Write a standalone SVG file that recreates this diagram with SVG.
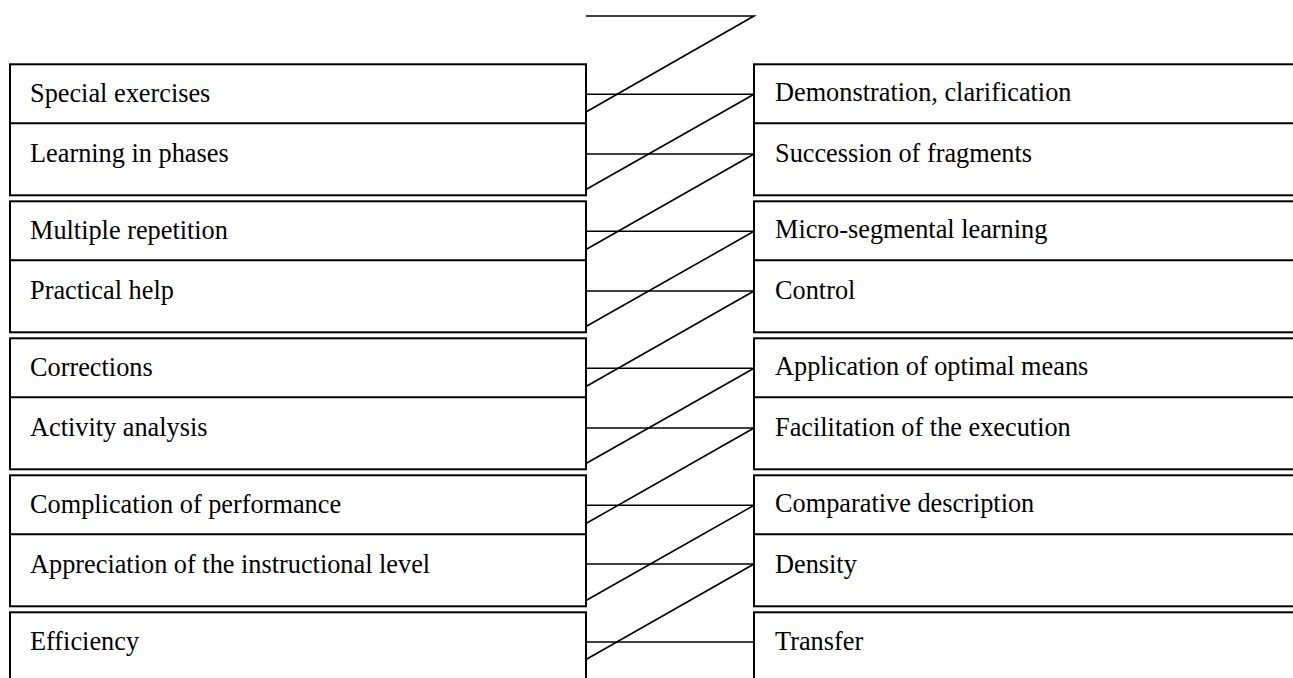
<svg xmlns="http://www.w3.org/2000/svg" width="1293" height="678" viewBox="0 0 1293 678">
<style>
.box{fill:#fff;stroke:#000;stroke-width:2}
.div{stroke:#000;stroke-width:2}
.t{font-family:"Liberation Serif","Times New Roman",serif;font-size:26.3px;fill:#000}
.c{stroke:#000;stroke-width:1.6;fill:none}
</style>
<rect width="1293" height="678" fill="#fff"/>
<g id="left-group-1">
<rect class="box" x="10" y="64.3" width="576" height="131"/>
<line class="div" x1="10" y1="123.3" x2="586" y2="123.3"/>
<text class="t" x="30" y="101.5">Special exercises</text>
<text class="t" x="30" y="161.5">Learning in phases</text>
</g>
<g id="left-group-2">
<rect class="box" x="10" y="201.3" width="576" height="131"/>
<line class="div" x1="10" y1="260.3" x2="586" y2="260.3"/>
<text class="t" x="30" y="238.5">Multiple repetition</text>
<text class="t" x="30" y="298.5">Practical help</text>
</g>
<g id="left-group-3">
<rect class="box" x="10" y="338.3" width="576" height="131"/>
<line class="div" x1="10" y1="397.3" x2="586" y2="397.3"/>
<text class="t" x="30" y="375.5">Corrections</text>
<text class="t" x="30" y="435.5">Activity analysis</text>
</g>
<g id="left-group-4">
<rect class="box" x="10" y="475.3" width="576" height="131"/>
<line class="div" x1="10" y1="534.3" x2="586" y2="534.3"/>
<text class="t" x="30" y="512.5">Complication of performance</text>
<text class="t" x="30" y="572.5">Appreciation of the instructional level</text>
</g>
<g id="left-group-5">
<rect class="box" x="10" y="612.3" width="576" height="120"/>
<text class="t" x="30" y="649.5">Efficiency</text>
</g>
<g id="right-group-1">
<rect class="box" x="754" y="64.3" width="600" height="131"/>
<line class="div" x1="754" y1="123.3" x2="1300" y2="123.3"/>
<text class="t" x="775" y="100.5">Demonstration, clarification</text>
<text class="t" x="775" y="161.5">Succession of fragments</text>
</g>
<g id="right-group-2">
<rect class="box" x="754" y="201.3" width="600" height="131"/>
<line class="div" x1="754" y1="260.3" x2="1300" y2="260.3"/>
<text class="t" x="775" y="237.5">Micro-segmental learning</text>
<text class="t" x="775" y="298.5">Control</text>
</g>
<g id="right-group-3">
<rect class="box" x="754" y="338.3" width="600" height="131"/>
<line class="div" x1="754" y1="397.3" x2="1300" y2="397.3"/>
<text class="t" x="775" y="374.5">Application of optimal means</text>
<text class="t" x="775" y="435.5">Facilitation of the execution</text>
</g>
<g id="right-group-4">
<rect class="box" x="754" y="475.3" width="600" height="131"/>
<line class="div" x1="754" y1="534.3" x2="1300" y2="534.3"/>
<text class="t" x="775" y="511.5">Comparative description</text>
<text class="t" x="775" y="572.5">Density</text>
</g>
<g id="right-group-5">
<rect class="box" x="754" y="612.3" width="600" height="120"/>
<text class="t" x="775" y="649.5">Transfer</text>
</g>
<g id="connectors">
<polyline class="c" points="586,16 754,16 586,112"/>
<line class="c" x1="586" y1="94.3" x2="754" y2="94.3"/>
<line class="c" x1="754" y1="94.3" x2="586" y2="189.5"/>
<line class="c" x1="586" y1="154" x2="754" y2="154"/>
<line class="c" x1="754" y1="154" x2="586" y2="249.5"/>
<line class="c" x1="586" y1="231.3" x2="754" y2="231.3"/>
<line class="c" x1="754" y1="231.3" x2="586" y2="326.5"/>
<line class="c" x1="586" y1="291" x2="754" y2="291"/>
<line class="c" x1="754" y1="291" x2="586" y2="386.5"/>
<line class="c" x1="586" y1="368.3" x2="754" y2="368.3"/>
<line class="c" x1="754" y1="368.3" x2="586" y2="463.5"/>
<line class="c" x1="586" y1="428" x2="754" y2="428"/>
<line class="c" x1="754" y1="428" x2="586" y2="523.5"/>
<line class="c" x1="586" y1="505.3" x2="754" y2="505.3"/>
<line class="c" x1="754" y1="505.3" x2="586" y2="600.5"/>
<line class="c" x1="586" y1="564" x2="754" y2="564"/>
<line class="c" x1="754" y1="564" x2="586" y2="659.5"/>
<line class="c" x1="586" y1="642" x2="754" y2="642"/>
</g>
</svg>
